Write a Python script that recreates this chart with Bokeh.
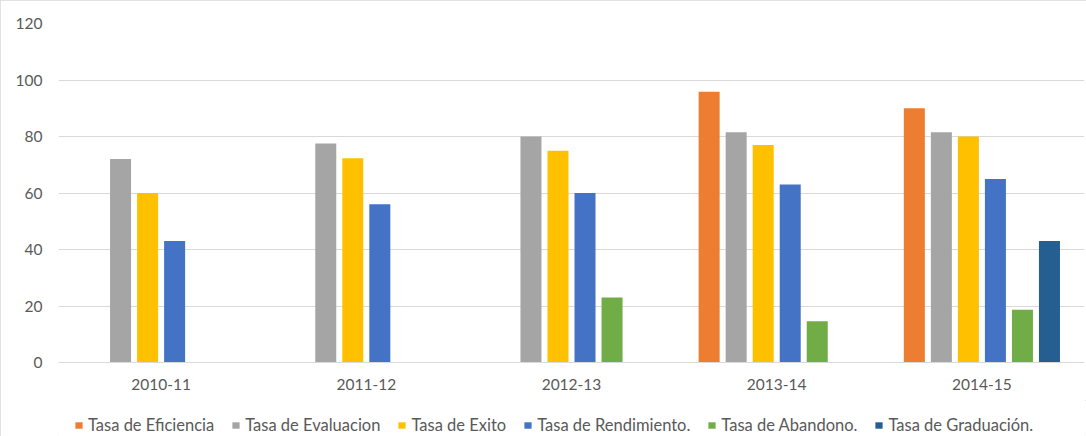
import math
from bokeh.plotting import figure
from bokeh.layouts import column
from bokeh.models import ColumnDataSource, FactorRange, Range1d, Legend, LegendItem
from bokeh.transform import dodge
from bokeh.embed import file_html
from bokeh.resources import INLINE

nan = float("nan")

categories = ["2010-11", "2011-12", "2012-13", "2013-14", "2014-15"]
eficiencia = [nan, nan, nan, 95.8, 90.0]
evaluacion = [72.0, 77.5, 80.0, 81.5, 81.5]
exito = [60.0, 72.3, 75.0, 77.0, 80.0]
rendimiento = [43.0, 56.0, 60.0, 63.0, 65.0]
abandono = [nan, nan, 23.0, 14.6, 18.7]
graduacion = [nan, nan, nan, nan, 43.0]

series_names = ["Tasa de Eficiencia", "Tasa de Evaluacion", "Tasa de Exito",
                "Tasa de Rendimiento.", "Tasa de Abandono.", "Tasa de Graduación."]
series_keys = ["eficiencia", "evaluacion", "exito", "rendimiento", "abandono", "graduacion"]
colors = ["#ED7D31", "#A5A5A5", "#FFC000", "#4472C4", "#70AD47", "#255E91"]
y_ticks = [0, 20, 40, 60, 80, 100, 120]

source = ColumnDataSource(dict(
    periodo=categories, eficiencia=eficiencia, evaluacion=evaluacion, exito=exito,
    rendimiento=rendimiento, abandono=abandono, graduacion=graduacion))

FONT = "Lato"
TXT = "#595959"
GRID = "#D9D9D9"

p = figure(x_range=FactorRange(*categories), y_range=Range1d(0, 120),
           frame_width=1026, frame_height=339, output_backend="svg", toolbar_location=None,
           min_border_left=58, min_border_right=2, min_border_top=23, min_border_bottom=38)

slot = 0.1317
bw = 0.1024
for i, (key, col) in enumerate(zip(series_keys, colors)):
    off = (i - 2.5) * slot
    p.vbar(x=dodge("periodo", off, range=p.x_range), top=key, width=bw,
           source=source, fill_color=col, line_color=None)

p.outline_line_color = None
p.xgrid.grid_line_color = None
p.ygrid.grid_line_color = GRID
p.ygrid.grid_line_width = 1
p.yaxis.ticker = y_ticks

p.yaxis.axis_line_color = None
p.yaxis.major_tick_line_color = None
p.yaxis.minor_tick_line_color = None
p.yaxis.major_tick_out = 0
p.yaxis.major_label_standoff = 16
p.xaxis.axis_line_color = GRID
p.xaxis.major_tick_line_color = None
p.xaxis.minor_tick_line_color = None
p.xaxis.major_tick_out = 0
p.xaxis.major_label_standoff = 16
for ax in (p.xaxis[0], p.yaxis[0]):
    ax.major_label_text_font = FONT
    ax.major_label_text_font_size = "15.5px"
    ax.major_label_text_color = TXT

# legend strip
lg = figure(width=1086, height=36, x_range=Range1d(0, 1), y_range=Range1d(0, 1),
            output_backend="svg", toolbar_location=None,
            min_border_left=0, min_border_right=0, min_border_top=0, min_border_bottom=0)
lg.axis.visible = False
lg.grid.grid_line_color = None
lg.outline_line_color = None
items = []
for name, col in zip(series_names, colors):
    r = lg.vbar(x=[nan], top=[nan], width=0.1, fill_color=col, line_color=None)
    items.append(LegendItem(label=name, renderers=[r]))
legend = Legend(items=items, orientation="horizontal", location=(16, 1),
                glyph_width=9, glyph_height=8, label_standoff=5, spacing=17,
                label_text_font=FONT, label_text_font_size="16.5px", label_text_color=TXT,
                border_line_color=None, background_fill_alpha=0, padding=0, margin=0)
lg.add_layout(legend, "center")

layout = column(p, lg, spacing=0)
layout.styles = {"outline": "1px solid #D9D9D9", "outline-offset": "-1px"}

open("out.html", "w").write(file_html(layout, INLINE))
